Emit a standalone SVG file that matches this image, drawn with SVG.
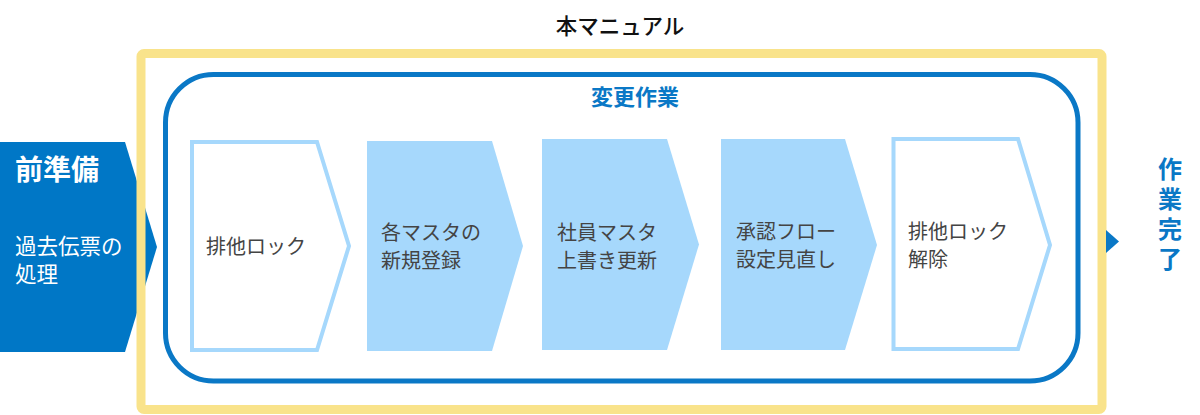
<svg xmlns="http://www.w3.org/2000/svg" width="1200" height="415" viewBox="0 0 1200 415">
<style>
text { font-family: "Noto Sans CJK JP", "Noto Sans", sans-serif; }
.step { fill: #a6d8fc; }
.stepo { fill: #ffffff; stroke: #a6d8fc; stroke-width: 4; }
.lbl { font-size: 20px; fill: #444444; }
.blue { fill: #0a78c6; }
</style>
<rect width="1200" height="415" fill="#ffffff"/>
<g id="pre">
<polygon points="0,142 125,142 157,247 125,352 0,352" fill="#0077c6"/>
<text x="15" y="180" font-size="28" font-weight="bold" fill="#ffffff">前準備</text>
<text x="15" y="254" font-size="21.5" fill="#ffffff">過去伝票の<tspan x="15" dy="28">処理</tspan></text>
</g>
<g id="manual">
<rect x="141" y="53.5" width="961" height="356" rx="3" fill="none" stroke="#f9e38b" stroke-width="9"/>
<text x="620" y="34" font-size="21.5" font-weight="500" fill="#111111" text-anchor="middle">本マニュアル</text>
</g>
<g id="change">
<rect x="165.5" y="74.5" width="912.5" height="306.5" rx="48" fill="none" stroke="#0a78c6" stroke-width="5"/>
<text x="635" y="105" font-size="22" font-weight="bold" class="blue" text-anchor="middle">変更作業</text>
</g>
<g id="step1">
<polygon class="stepo" points="192,142 317,142 349,246 317,350 192,350"/>
<text class="lbl" x="206" y="254">排他ロック</text>
</g>
<g id="step2">
<polygon class="step" points="367,141 492,141 523,246 492,351 367,351"/>
<text class="lbl" x="381" y="240">各マスタの<tspan x="381" dy="28">新規登録</tspan></text>
</g>
<g id="step3">
<polygon class="step" points="542,139 667,139 699,244.5 667,350 542,350"/>
<text class="lbl" x="557" y="240">社員マスタ<tspan x="557" dy="28">上書き更新</tspan></text>
</g>
<g id="step4">
<polygon class="step" points="721,139 845,139 877,245 845,350 721,350"/>
<text class="lbl" x="736" y="239">承認フロー<tspan x="736" dy="28">設定見直し</tspan></text>
</g>
<g id="step5">
<polygon class="stepo" points="893.5,139 1018,139 1050,245 1018,349 893.5,349"/>
<text class="lbl" x="908" y="239">排他ロック<tspan x="908" dy="28">解除</tspan></text>
</g>
<g id="connectors">
<polygon points="1106,230 1119,241.5 1106,253" class="blue"/>
</g>
<g id="done">
<text x="1170" y="157" font-size="24" font-weight="bold" class="blue" writing-mode="vertical-rl" letter-spacing="6">作業完了</text>
</g>
</svg>
